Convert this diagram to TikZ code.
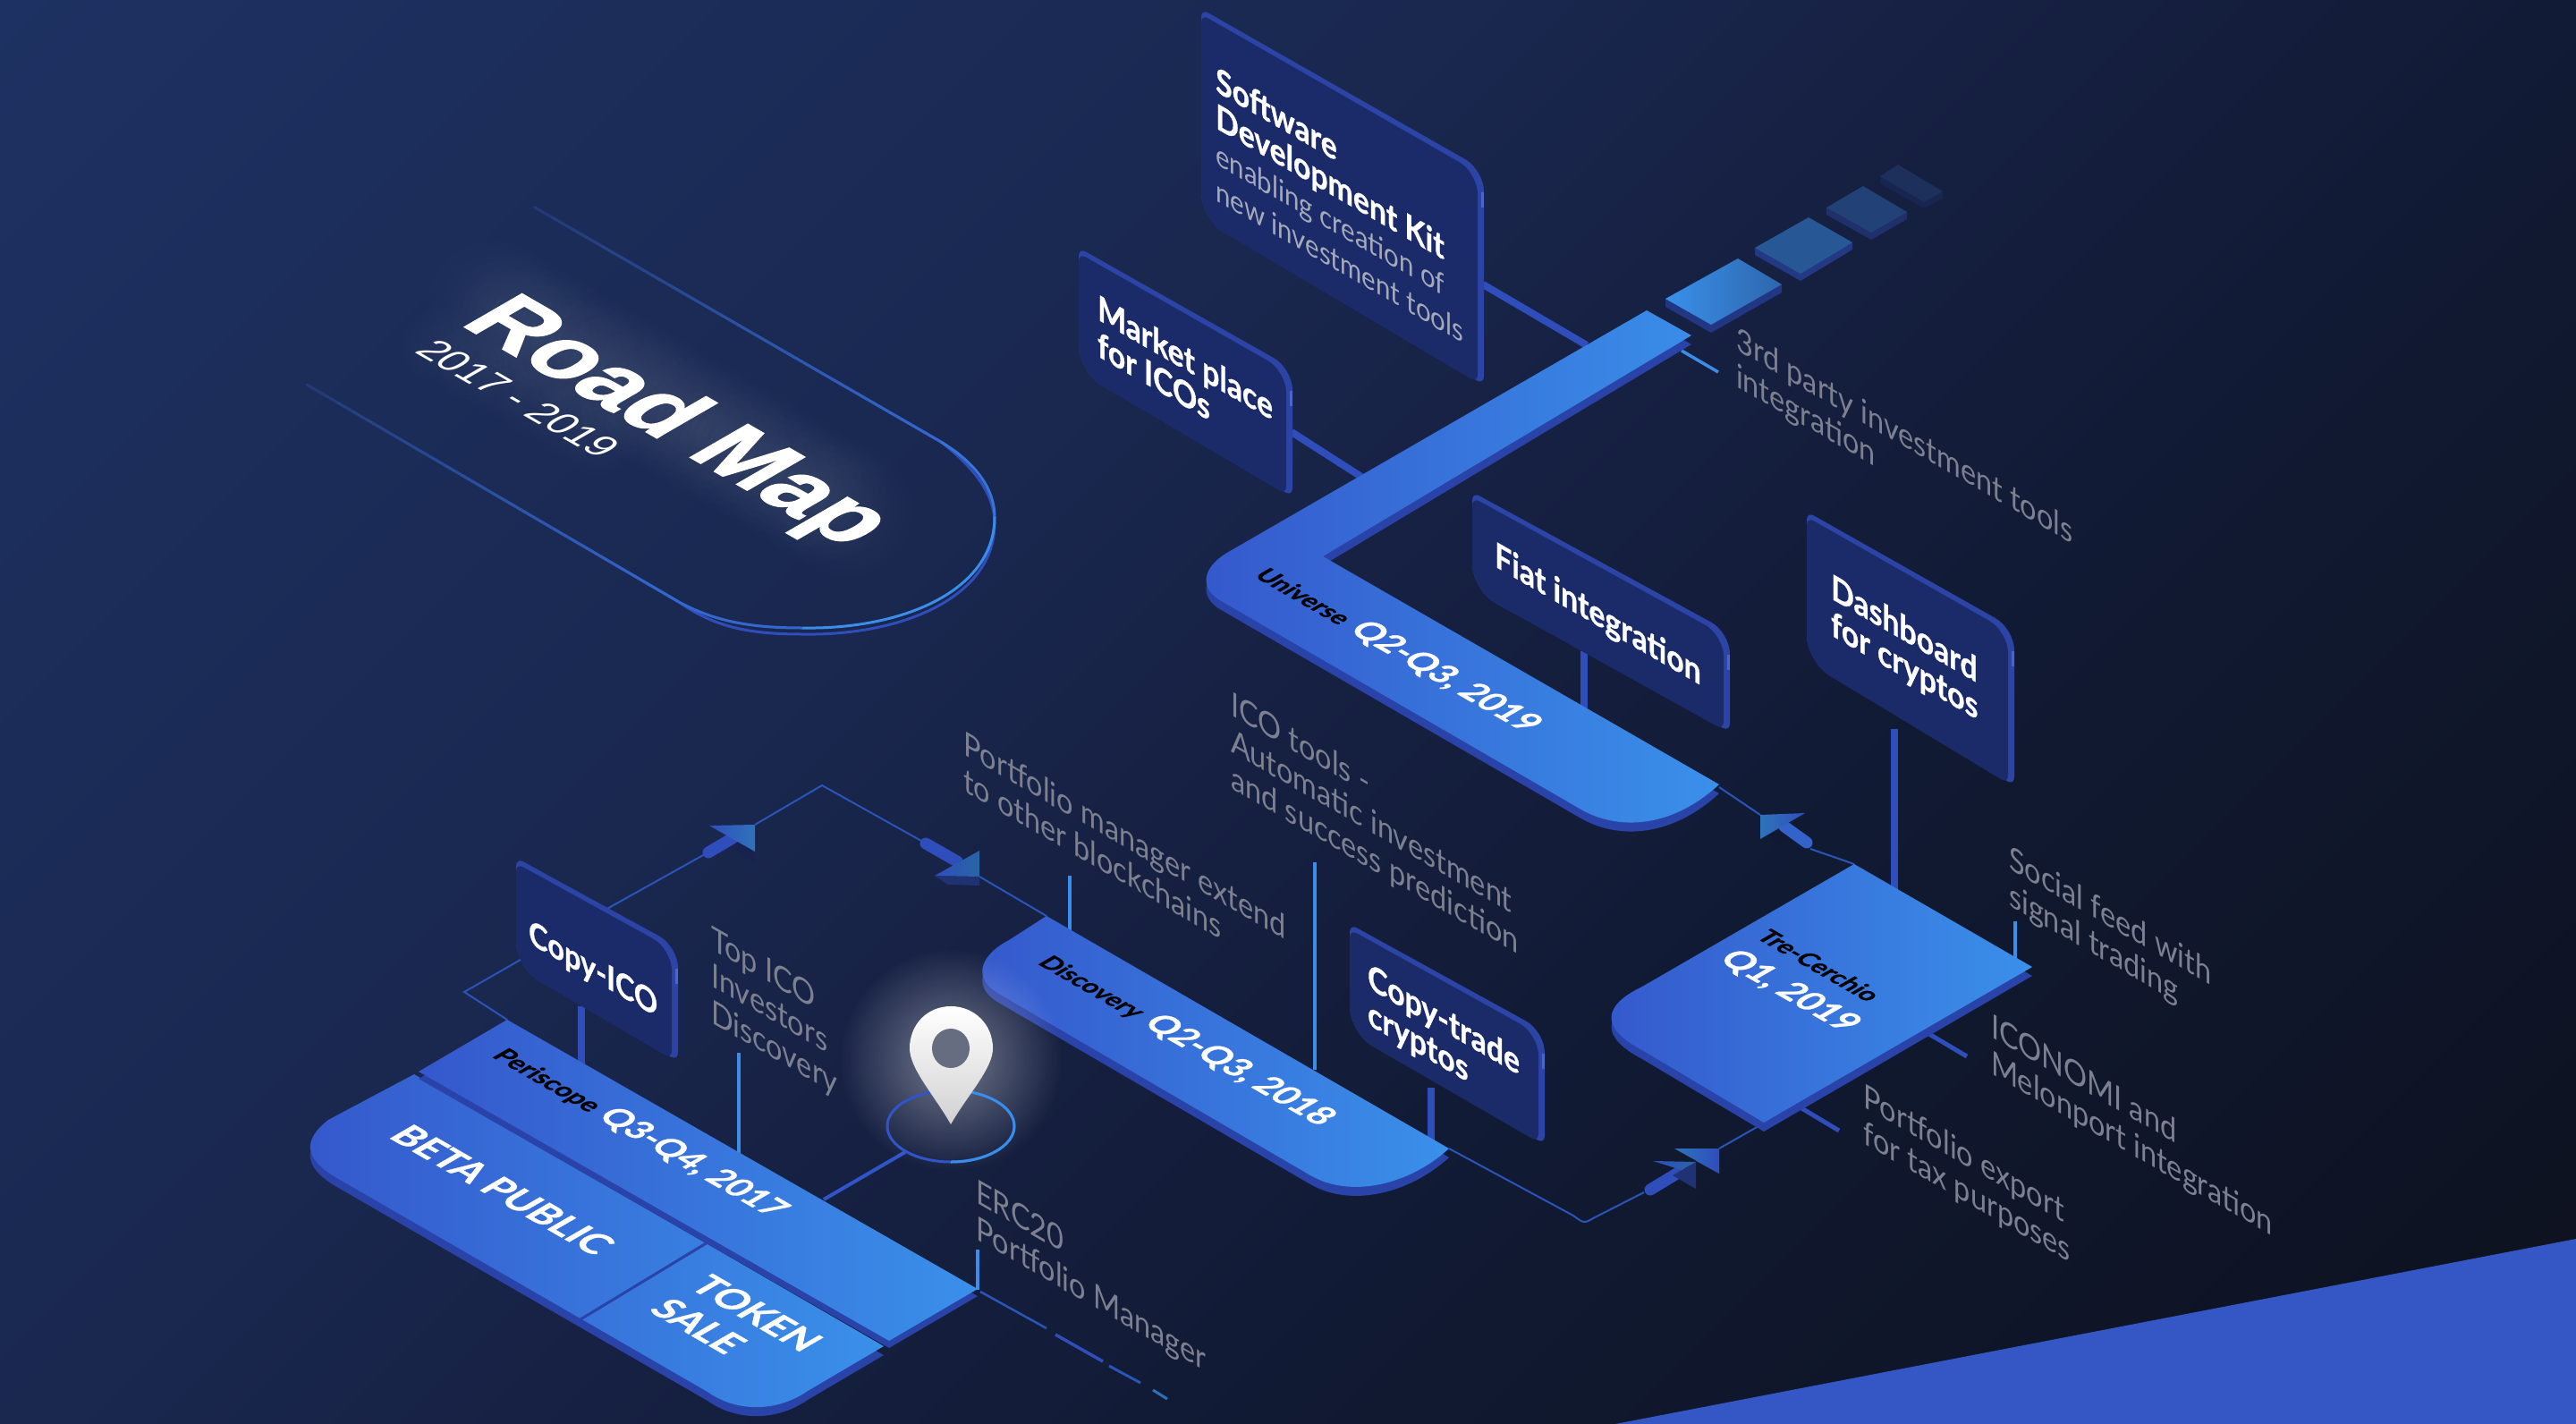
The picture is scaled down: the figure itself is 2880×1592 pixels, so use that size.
\documentclass[tikz,border=0pt]{standalone}
\usepackage{fontspec}
\setmainfont[BoldFeatures={FakeBold=0.9}]{Lato}
\newfontfamily\heavy[BoldFeatures={FakeBold=1.5}]{Liberation Sans}
\usetikzlibrary{calc,fadings}
\definecolor{bgA}{HTML}{1D3162}
\definecolor{bgB}{HTML}{1A2850}
\definecolor{bgC}{HTML}{162042}
\definecolor{bgD}{HTML}{111A33}
\definecolor{bgE}{HTML}{0D111E}
\definecolor{platL}{HTML}{3558CC}
\definecolor{platR}{HTML}{3A90EA}
\definecolor{platRim}{HTML}{2A43A8}
\definecolor{cardFace}{HTML}{1B2A68}
\definecolor{cardRim}{HTML}{2C44A6}
\definecolor{cardHi}{HTML}{4A66C8}
\definecolor{wire}{HTML}{2A55B8}
\definecolor{stemC}{HTML}{2F4EBC}
\definecolor{leadC}{HTML}{3A8DE8}
\definecolor{grayT}{HTML}{7C8090}
\definecolor{grayL}{HTML}{A5A9BC}
\definecolor{cornerC}{HTML}{3557C6}
\definecolor{ringD}{HTML}{2F55C8}
\definecolor{pinHole}{HTML}{666D80}
\pgfdeclarehorizontalshading{bgshade}{100bp}{color(0bp)=(bgA);color(14.6bp)=(bgA);color(40bp)=(bgB);color(50bp)=(bgC);color(62bp)=(bgD);color(85.4bp)=(bgE);color(100bp)=(bgE)}
\tikzfading[name=softglow,inner color=transparent!0,outer color=transparent!100]
\tikzset{
  wallt/.style={cm={.866,-.5,0,1,(0,0)},transform shape,anchor=base west,inner sep=0pt,align=left},
  floort/.style={cm={.866,-.5,.866,.5,(0,0)},transform shape,anchor=base west,inner sep=0pt,align=left},
  grayline/.style={text=grayT,font=\fontsize{37.5}{41}\selectfont},
  cardline/.style={text=white,font=\fontsize{39}{41}\selectfont\bfseries},
  wireline/.style={draw=wire,line width=2pt},
  stemline/.style={draw=stemC,line width=8pt},
  leadline/.style={draw=leadC,line width=3.5pt},
  sideline/.style={draw=stemC,line width=5pt},
  platf/.style={left color=platL,right color=platR},
  ringline/.style={line width=3pt}
}
\newcommand\lbl[5]{\begin{scope}[shift={(#2,#3)}]\node[#4] (#1) at (0,0) {#5};\end{scope}}
\newcommand\plat[2][10pt]{\fill[platRim,yshift=-#1] #2; \shade[platf] #2;}
\newcommand\cardp[6]{(#1,{(#3+#6)/2}) [rounded corners=9pt] -- (#1,#3) [rounded corners=24pt] -- (#2,#4) [rounded corners=9pt] -- (#2,#5) [rounded corners=30pt] -- (#1,#6) -- cycle}
\newcommand\card[6]{\fill[cardRim] \cardp{#1}{#2}{#3}{#4}{#5}{#6}; \fill[cardFace] \cardp{#1}{#2-7}{#3+6}{#4+3}{#5-2}{#6}; \draw[cardHi,line width=3pt] (#2-2,#4+25) -- (#2-2,#4+42);}
\newcommand\fadeln[5]{\foreach \i in {0,...,23}{\pgfmathtruncatemacro\p{30+\i*(#4-30)/23}\draw[draw=#3!\p!#5,line width=3pt,line cap=round] ($#1!{\i/24}!#2$) -- ($#1!{(\i+1)/24}!#2$);}}
\begin{document}
\begin{tikzpicture}[x=1pt,y=-1pt]
\useasboundingbox (0,0) rectangle (2880,1592);
\shade[shading=bgshade,shading angle=-45] (0,0) rectangle (2880,1592);
\fill[cornerC] (1806,1592) -- (2880,1385) -- (2880,1592) -- cycle;

% --- Road map stadium
\foreach \t in {0,1,...,14}{
  \fill[white,path fading=softglow,opacity=.045] ($(552,343)!{\t/14}!(945,570)$) circle (85);
}
\foreach \t in {0,1,...,5}{
  \fill[white,path fading=softglow,opacity=.03] ($(490,385)!{\t/5}!(670,490)$) circle (50);
}
\coordinate (sa) at (598,232); \coordinate (sb) at (1052,494);
\coordinate (sc) at (343,430); \coordinate (sd) at (759,673);
\begin{scope}[yshift=-7pt]\fadeln{(sa)}{(sb)}{stemC}{100}{bgB}\fadeln{(sc)}{(sd)}{stemC}{100}{bgB}\end{scope}
\fadeln{(sa)}{(sb)}{stemC!60!leadC}{100}{bgB}
\fadeln{(sc)}{(sd)}{stemC!60!leadC}{100}{bgB}
\begin{scope}[yshift=-7pt]
\draw[stemC,line width=3pt] (sb) .. controls (1095,520) and (1112,550) .. (1112,578) .. controls (1112,660) and (1010,704) .. (897,702) .. controls (840,702) and (800,695) .. (sd);
\end{scope}
\draw[stemC!40!leadC,line width=3pt] (sb) .. controls (1095,520) and (1112,550) .. (1112,578);
\draw[leadC,line width=3pt] (1112,578) .. controls (1112,660) and (1010,704) .. (897,702);
\draw[stemC!60!leadC,line width=3pt] (897,702) .. controls (840,702) and (800,695) .. (sd);
\lbl{roadmap}{513}{362}{floort,cm={1.05,0,0,1.08,(0,0)},text=white,font=\heavy\fontsize{100}{100}\selectfont\bfseries}{Road Map}
\lbl{years}{462}{393}{floort,text=white,font=\heavy\fontsize{45}{45}\selectfont}{2017 - 2019}

% --- thin wires
\coordinate (perTop) at (567,1140); \coordinate (wA) at (519,1109); \coordinate (wB) at (575,1077);
\coordinate (wC) at (684,1013); \coordinate (wD) at (788,955); \coordinate (wE) at (844,922);
\coordinate (wF) at (919,878); \coordinate (wG) at (1030,940); \coordinate (wH) at (1095,980);
\coordinate (disTop) at (1170,1024);
\draw[wireline] (perTop) -- (wA) -- (wB) -- (wC) -- (wD);
\draw[wireline] (wE) -- (wF) -- (wG);
\draw[wireline] (wH) -- (disTop);
\coordinate (disEnd) at (1620,1284); \coordinate (wI) at (1759,1359); \coordinate (wJ) at (1783,1361);
\coordinate (wK) at (1838,1333); \coordinate (wL) at (1922,1284); \coordinate (treBot) at (1966,1259);
\draw[wireline] (disEnd) -- (wI) .. controls (1771,1368) .. (wJ) -- (wK);
\draw[wireline] (wL) -- (treBot);
\coordinate (uniEnd) at (1922,880); \coordinate (wM) at (1968,911); \coordinate (wN) at (2024,949); \coordinate (treTop) at (2073,966);
\draw[wireline] (uniEnd) -- (wM);
\draw[wireline] (wN) -- (treTop);

% --- stems from cards to platforms
\coordinate (st1a) at (1658,318); \coordinate (st1b) at (1774,386);
\coordinate (st2a) at (1444,483); \coordinate (st2b) at (1522,533);
\draw[stemline] (st1a) -- (st1b);
\draw[stemline] (st2a) -- (st2b);
\coordinate (st3a) at (1771,728); \coordinate (st3b) at (1771,800);
\draw[stemline] (st3a) -- (st3b);
\coordinate (st4a) at (2118,815); \coordinate (st4b) at (2118,1000);
\draw[stemline] (st4a) -- (st4b);
\coordinate (st5a) at (1600,1216); \coordinate (st5b) at (1600,1275);
\draw[stemline] (st5a) -- (st5b);
\coordinate (st6a) at (650,1125); \coordinate (st6b) at (650,1190);
\draw[stemline] (st6a) -- (st6b);

% --- leader lines
\coordinate (l1a) at (1880,392); \coordinate (l1b) at (1921,416);
\draw[leadline] (l1a) -- (l1b);
\coordinate (l2a) at (826,1177); \coordinate (l2b) at (826,1290);
\draw[leadline] (l2a) -- (l2b);
\coordinate (l3a) at (1093,1397); \coordinate (l3b) at (1093,1442);
\draw[leadline] (l3a) -- (l3b);
\coordinate (l4a) at (1196,979); \coordinate (l4b) at (1196,1040);
\draw[leadline] (l4a) -- (l4b);
\coordinate (l5a) at (1470,964); \coordinate (l5b) at (1470,1196);
\draw[leadline] (l5a) -- (l5b);
\coordinate (l6a) at (2253,1030); \coordinate (l6b) at (2253,1075);
\draw[leadline] (l6a) -- (l6b);
\coordinate (l7a) at (2150,1152); \coordinate (l7b) at (2199,1181);
\draw[sideline] (l7a) -- (l7b);
\coordinate (l8a) at (2006,1234); \coordinate (l8b) at (2056,1264);
\draw[sideline] (l8a) -- (l8b);
\coordinate (d0) at (1096,1444); \coordinate (d1) at (1170,1485);
\coordinate (d2) at (1180,1492); \coordinate (d3) at (1233,1522);
\coordinate (d4) at (1240,1527); \coordinate (d5) at (1275,1546);
\coordinate (d6) at (1289,1554); \coordinate (d7) at (1305,1564);
\draw[wire,line width=2.5pt] (d0) -- (d1);
\draw[stemC,line width=3.5pt] (d2) -- (d3);
\draw[wire,line width=3pt] (d4) -- (d5);
\draw[leadC!80!black,line width=3pt] (d6) -- (d7);
\coordinate (pinA) at (921,1341); \coordinate (pinB) at (1012,1288);
\draw[ringD,line width=4pt] (pinA) -- (pinB);

% --- floating squares
\fill[stemC!70!black] (1862,334) -- (1862,343) -- (1913,372) -- (1992,327) -- (1992,318) -- cycle;
\shade[left color=platR,right color=platR!60!bgB] (1862,334) -- (1943,289) -- (1992,318) -- (1913,363) -- cycle;
\fill[stemC!55!bgC] (1962,277) -- (1962,285) -- (2013,314) -- (2071,279) -- (2071,271) -- cycle;
\fill[platR!45!bgB] (1962,277) -- (2022,243) -- (2071,271) -- (2013,306) -- cycle;
\fill[stemC!35!bgC] (2042,232) -- (2042,240) -- (2092,268) -- (2132,245) -- (2132,237) -- cycle;
\fill[platR!25!bgB] (2042,232) -- (2083,208) -- (2132,237) -- (2092,260) -- cycle;
\fill[stemC!12!bgC] (2102,197) -- (2102,205) -- (2151,233) -- (2172,222) -- (2172,214) -- cycle;
\fill[platR!8!bgB] (2102,197) -- (2122,184) -- (2172,214) -- (2151,226) -- cycle;

% --- Universe
\plat{(1841,347) -- (1891,375) -- (1479,622) -- (1922,877) .. controls (1870,925) and (1810,930) .. (1766,904) -- (1362,670) .. controls (1340,655) and (1345,632) .. (1377,615) -- cycle}
\lbl{uni}{1401}{644}{floort}{{\color{black}\bfseries\fontsize{28}{30}\selectfont Universe}\hspace{12pt}{\color{white}\bfseries\fontsize{38.5}{44}\selectfont Q2-Q3, 2019}}

% --- Tre-Cerchio
\plat{(2073,966) -- (2272,1081) -- (1972,1255) -- (1836,1174) .. controls (1790,1150) and (1790,1125) .. (1836,1103) -- cycle}
\lbl{tre1}{1962}{1048}{floort,text=black,font=\bfseries\fontsize{28}{30}\selectfont}{Tre-Cerchio}
\lbl{tre2}{1920}{1073}{floort,text=white,font=\bfseries\fontsize{39}{44}\selectfont}{Q1, 2019}

% --- Discovery
\plat{(1170,1024) -- (1620,1284) .. controls (1575,1325) and (1510,1340) .. (1465,1314) -- (1115,1110) .. controls (1090,1095) and (1092,1070) .. (1128,1051) -- cycle}
\lbl{dis}{1159}{1077}{floort}{{\color{black}\bfseries\fontsize{28}{30}\selectfont Discovery}\hspace{12pt}{\color{white}\bfseries\fontsize{38.5}{44}\selectfont Q2-Q3, 2018}}

% --- Periscope platform: lower part
\plat{(463,1201) -- (988,1505) -- (903,1555) .. controls (870,1578) and (825,1580) .. (791,1556) -- (375,1316) .. controls (340,1295) and (338,1275) .. (367,1252) -- cycle}
\draw[platRim,line width=3pt] (791,1389) -- (649,1475);
\lbl{beta}{433}{1271}{floort,text=white,font=\bfseries\fontsize{43}{44}\selectfont}{BETA PUBLIC}
\lbl{token}{724}{1465}{floort,text=white,font=\bfseries\fontsize{43}{52}\selectfont}{TOKEN\\SALE}
% --- Periscope band
\plat[8pt]{(567,1140) -- (1093,1441) -- (994,1499) -- (468,1198) -- cycle}
\lbl{peri}{549}{1181}{floort}{{\color{black}\bfseries\fontsize{29}{30}\selectfont Periscope}\hspace{10pt}{\color{white}\bfseries\fontsize{38}{44}\selectfont Q3-Q4, 2017}}

% --- arrows
\fill[bgE!70!stemC] (844,922) -- (844,952) -- (844,965) -- (810,944) -- cycle;
\draw[stemC,line width=13pt,line cap=round] (792,953) -- (819,937);
\shade[left color=stemC,right color=platR!80!black] (793,923) -- (844,922) -- (844,952) -- cycle;
\fill[bgC!60!stemC] (1045,979) -- (1095,980) -- (1095,990) -- (1060,989) -- cycle;
\draw[stemC,line width=13pt,line cap=round] (1035,943) -- (1070,963);
\shade[left color=stemC,right color=platR!70!black] (1045,979) -- (1095,951) -- (1095,980) -- cycle;
\fill[bgE!88!stemC] (1975,935) -- (2020,912) -- (2028,920) -- (1990,945) -- cycle;
\draw[stemC!70!platR,line width=13pt,line cap=round] (1995,924) -- (2020,942);
\shade[left color=platR!80!black,right color=stemC] (1968,911) -- (2018,909) -- (1968,938) -- cycle;
\draw[stemC,line width=13pt,line cap=round] (1845,1330) -- (1878,1310);
\fill[bgC!60!stemC] (1896,1299) -- (1896,1329) -- (1870,1314) -- cycle;
\shade[left color=stemC,right color=platR!70!black] (1848,1298) -- (1896,1299) -- (1880,1308) -- cycle;
\fill[stemC!60!bgC] (1922,1284) -- (1922,1312) -- (1896,1298) -- cycle;
\shade[left color=platR!80!black,right color=stemC] (1872,1284) -- (1922,1284) -- (1922,1312) -- cycle;

% --- cards
\card{1343}{1659}{10}{190}{430}{245}
\lbl{sdk1}{1359}{143}{wallt,cardline}{Software\\Development Kit}
\lbl{sdk2}{1359}{224}{wallt,text=grayL,font=\fontsize{34}{41}\selectfont}{enabling creation of\\new investment tools}
\card{1206}{1445}{277}{412}{555}{416}
\lbl{market}{1227}{398}{wallt,cardline}{Market place\\for ICOs}
\card{1646}{1934}{550}{707}{818}{660}
\lbl{fiat}{1671}{633}{wallt,cardline}{Fiat integration}
\card{2020}{2252}{572}{703}{878}{740}
\lbl{dash}{2047}{710}{wallt,cardline}{Dashboard\\for cryptos}
\card{1509}{1727}{1033}{1153}{1279}{1155}
\lbl{copyt}{1529}{1145}{wallt,cardline}{Copy-trade\\cryptos}
\card{577}{758}{959}{1058}{1186}{1082}
\lbl{copyi}{591}{1054}{wallt,cardline,font=\fontsize{37.5}{41}\selectfont\bfseries}{Copy-ICO}

% --- gray captions
\lbl{c1}{1941}{432}{wallt,grayline}{3rd party investment tools\\integration}
\lbl{c2}{1077}{884}{wallt,grayline}{Portfolio manager extend\\to other blockchains}
\lbl{c3}{1376}{881}{wallt,grayline}{ICO tools -\\Automatic investment\\and success prediction}
\lbl{c4}{795}{1143}{wallt,grayline}{Top ICO\\Investors\\Discovery}
\lbl{c5}{1091}{1385}{wallt,grayline}{ERC20\\Portfolio Manager}
\lbl{c6}{2246}{1012}{wallt,grayline}{Social feed with\\signal trading}
\lbl{c7}{2226}{1200}{wallt,grayline}{ICONOMI and\\Melonport integration}
\lbl{c8}{2083}{1278}{wallt,grayline}{Portfolio export\\for tax purposes}

% --- location pin
\fill[white,path fading=softglow,opacity=.4] (1063,1185) circle (125);
\draw[ringD,ringline] (1063,1259) ellipse (71 and 40);
\begin{scope}\clip (1063,1200) rectangle (1150,1310);\draw[leadC,ringline] (1063,1259) ellipse (71 and 40);\end{scope}
\shade[top color=white,bottom color=black!18] (1063,1257) .. controls (1045,1225) and (1017,1195) .. (1017,1172) .. controls (1017,1145) and (1037,1125) .. (1063,1125) .. controls (1089,1125) and (1110,1145) .. (1110,1172) .. controls (1110,1195) and (1081,1225) .. (1063,1257) -- cycle;
\fill[pinHole] (1063,1172) ellipse (21 and 22);
\end{tikzpicture}
\end{document}
